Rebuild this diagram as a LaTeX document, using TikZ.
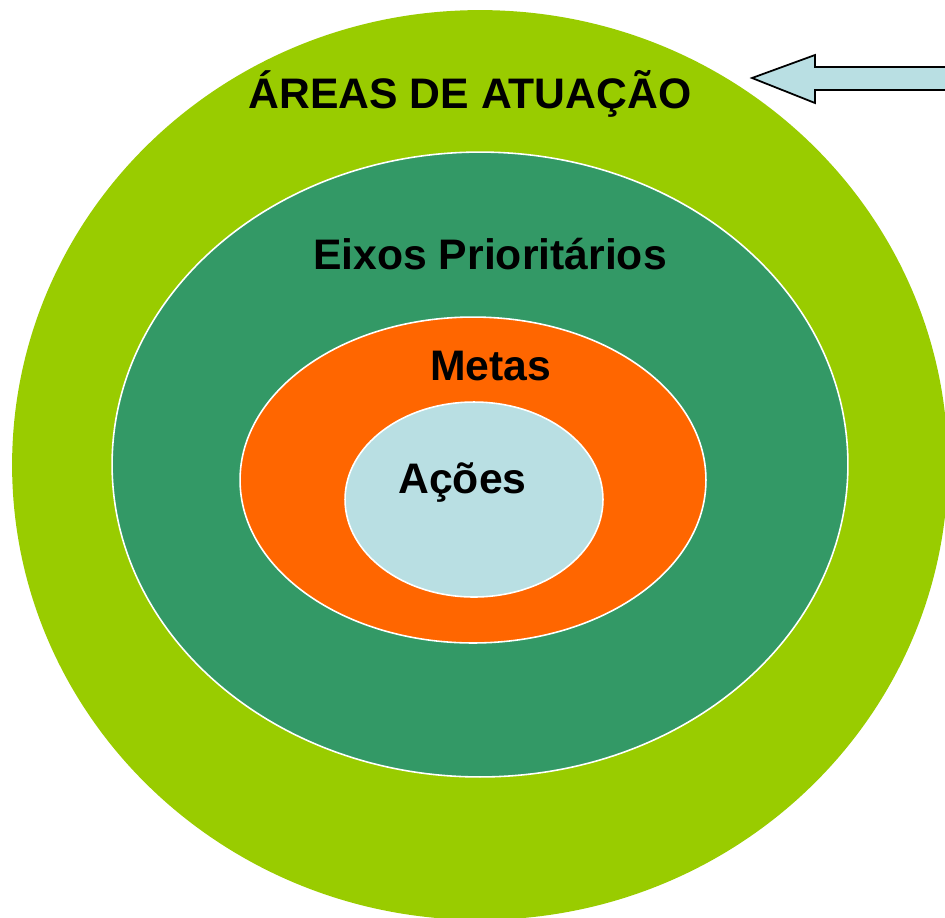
\documentclass[tikz,border=0pt]{standalone}
\usepackage{fontspec}
\setmainfont{Liberation Sans}
\usetikzlibrary{shapes.geometric}
\definecolor{cvivid}{HTML}{99CC00}
\definecolor{cdeep}{HTML}{339966}
\definecolor{corange}{HTML}{FF6600}
\definecolor{cpale}{HTML}{B9DFE3}

\begin{document}
\begin{tikzpicture}[x=0.02cm,y=-0.02cm,
  ring/.style={ellipse,inner sep=0pt,draw=white,line width=0.9pt},
  label text/.style={anchor=base,font=\fontsize{24.3}{28}\selectfont\bfseries}]
  \useasboundingbox (0,0) rectangle (945,917);
  \clip (0,0) rectangle (945,917);

  \node[ring,draw=none,fill=cvivid,minimum width=18.72cm,minimum height=18.2cm] (areas) at (480,465) {};
  \node[ring,fill=cdeep,minimum width=14.72cm,minimum height=12.5cm] (eixos) at (480,464.5) {};
  \node[ring,fill=corange,minimum width=9.32cm,minimum height=6.52cm] (metas) at (473,480) {};
  \node[ring,fill=cpale,minimum width=5.16cm,minimum height=3.9cm] (acoes) at (474,499.5) {};

  \node[label text] (t1) at (470,108) {ÁREAS DE ATUAÇÃO};
  \node[label text] (t2) at (490,269) {Eixos Prioritários};
  \node[label text] (t3) at (490.5,380) {Metas};
  \node[label text] (t4) at (462.5,493) {Ações};

  % pointer
  \draw[fill=cpale,line width=1pt,line join=miter]
    (752,78) -- (815,55) -- (815,67) -- (960,67) -- (960,90) -- (815,90) -- (815,103) -- cycle;
\end{tikzpicture}
\end{document}
